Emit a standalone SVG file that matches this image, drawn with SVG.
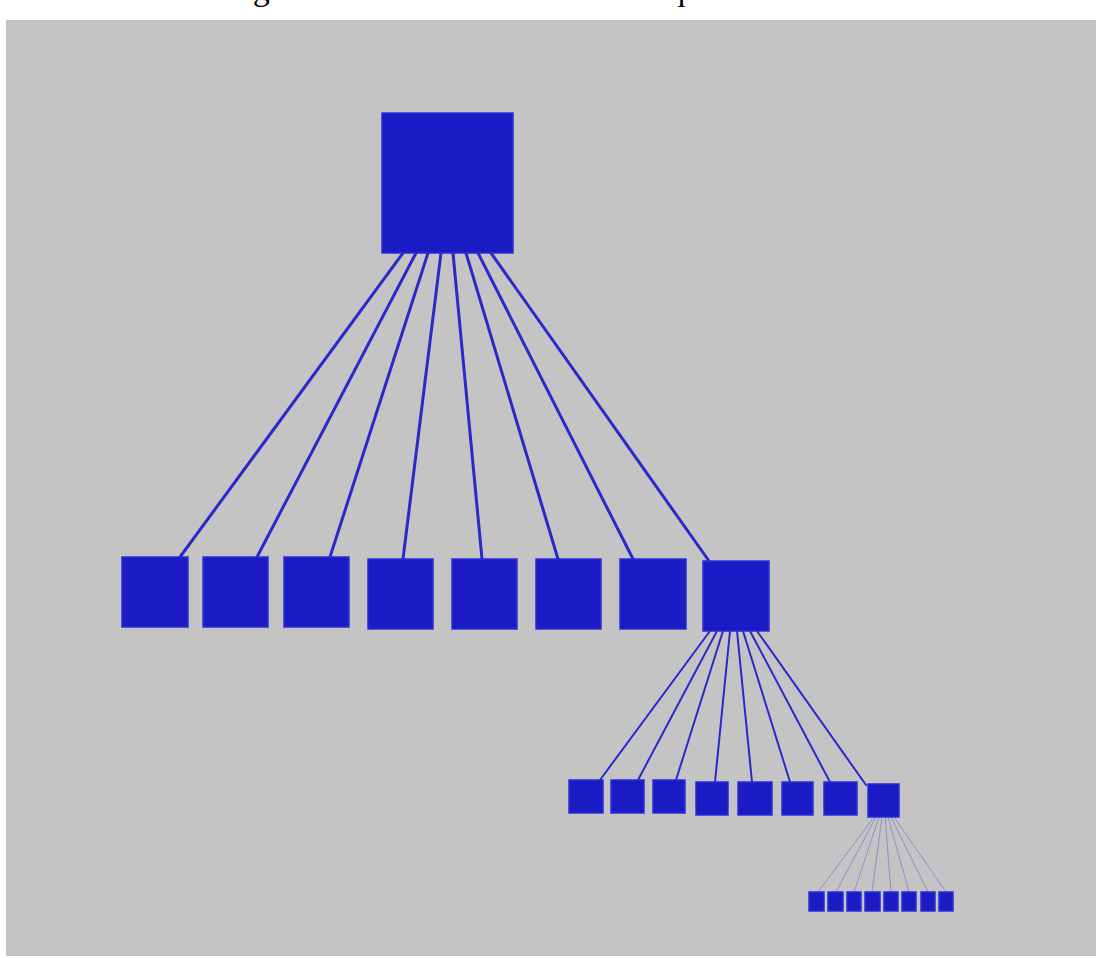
<svg xmlns="http://www.w3.org/2000/svg" width="1096" height="958" viewBox="0 0 1096 958">
<style>
.bg{fill:#c4c4c4}
.title{font-family:"Liberation Serif","Times New Roman",serif;font-size:34px;fill:#000}
.node{fill:#1b1bc6;stroke:#2c2cd6;stroke-width:1.5}
.e1{stroke:#2a2acc;stroke-width:3;fill:none;stroke-linecap:round}
.e2{stroke:#2a2acc;stroke-width:2;fill:none;stroke-linecap:round}
.e3{stroke:#2a2acc;stroke-width:1;fill:none;opacity:0.35}
</style>
<rect x="0" y="0" width="1096" height="958" fill="#ffffff"/>
<rect class="bg" x="6" y="20" width="1090" height="936"/>
<text class="title" x="141" y="0">Each large voxel is subdivided into 8 equal smaller voxels.</text>
<g id="connectors">
<line class="e1" x1="403" y1="253" x2="180" y2="557"/>
<line class="e1" x1="416" y1="253" x2="257" y2="557"/>
<line class="e1" x1="428" y1="253" x2="330" y2="557"/>
<line class="e1" x1="441" y1="253" x2="403" y2="559"/>
<line class="e1" x1="453" y1="253" x2="482" y2="559"/>
<line class="e1" x1="466" y1="253" x2="558" y2="559"/>
<line class="e1" x1="478" y1="253" x2="633" y2="559"/>
<line class="e1" x1="491" y1="253" x2="709" y2="561"/>
<line class="e2" x1="710" y1="631" x2="600" y2="780"/>
<line class="e2" x1="717" y1="631" x2="638" y2="780"/>
<line class="e2" x1="723" y1="631" x2="676" y2="780"/>
<line class="e2" x1="730" y1="631" x2="715" y2="782"/>
<line class="e2" x1="737" y1="631" x2="752" y2="782"/>
<line class="e2" x1="743" y1="631" x2="790" y2="782"/>
<line class="e2" x1="750" y1="631" x2="830" y2="782"/>
<line class="e2" x1="757" y1="631" x2="866" y2="785"/>
<line class="e3" x1="874" y1="817" x2="818" y2="892"/>
<line class="e3" x1="876" y1="817" x2="836" y2="892"/>
<line class="e3" x1="879" y1="817" x2="854" y2="892"/>
<line class="e3" x1="882" y1="817" x2="872" y2="892"/>
<line class="e3" x1="885" y1="817" x2="891" y2="892"/>
<line class="e3" x1="888" y1="817" x2="909" y2="892"/>
<line class="e3" x1="891" y1="817" x2="928" y2="892"/>
<line class="e3" x1="894" y1="817" x2="946" y2="892"/>
</g>
<g id="root"><rect class="node" x="382" y="113" width="131" height="140"/></g>
<g id="n1"><rect class="node" x="122" y="557" width="66" height="70"/></g>
<g id="n2"><rect class="node" x="203" y="557" width="65" height="70"/></g>
<g id="n3"><rect class="node" x="284" y="557" width="65" height="70"/></g>
<g id="n4"><rect class="node" x="368" y="559" width="65" height="70"/></g>
<g id="n5"><rect class="node" x="452" y="559" width="65" height="70"/></g>
<g id="n6"><rect class="node" x="536" y="559" width="65" height="70"/></g>
<g id="n7"><rect class="node" x="620" y="559" width="66" height="70"/></g>
<g id="n8"><rect class="node" x="703" y="561" width="66" height="70"/></g>
<g id="n8-1"><rect class="node" x="569" y="780" width="34" height="33"/></g>
<g id="n8-2"><rect class="node" x="611" y="780" width="33" height="33"/></g>
<g id="n8-3"><rect class="node" x="653" y="780" width="32" height="33"/></g>
<g id="n8-4"><rect class="node" x="696" y="782" width="32" height="33"/></g>
<g id="n8-5"><rect class="node" x="738" y="782" width="34" height="33"/></g>
<g id="n8-6"><rect class="node" x="782" y="782" width="31" height="33"/></g>
<g id="n8-7"><rect class="node" x="824" y="782" width="33" height="33"/></g>
<g id="n8-8"><rect class="node" x="868" y="784" width="31" height="33"/></g>
<g id="n8-8-1"><rect class="node" x="809" y="892" width="15" height="19"/></g>
<g id="n8-8-2"><rect class="node" x="828" y="892" width="15" height="19"/></g>
<g id="n8-8-3"><rect class="node" x="847" y="892" width="14" height="19"/></g>
<g id="n8-8-4"><rect class="node" x="865" y="892" width="15" height="19"/></g>
<g id="n8-8-5"><rect class="node" x="884" y="892" width="14" height="19"/></g>
<g id="n8-8-6"><rect class="node" x="902" y="892" width="14" height="19"/></g>
<g id="n8-8-7"><rect class="node" x="921" y="892" width="14" height="19"/></g>
<g id="n8-8-8"><rect class="node" x="939" y="892" width="14" height="19"/></g>
</svg>
